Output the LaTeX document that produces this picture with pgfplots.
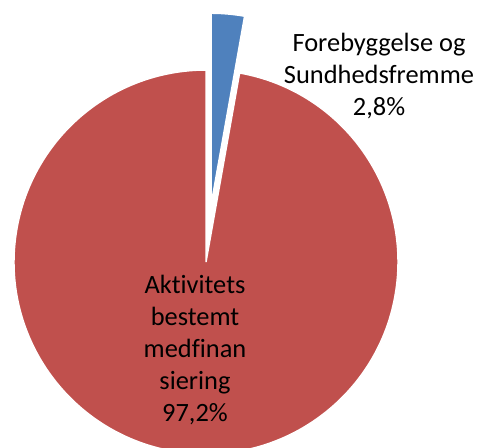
\documentclass[border=0pt]{standalone}
\usepackage{fontspec}
\setmainfont{Carlito}[Ligatures=NoCommon]
\usepackage{pgfplots}
\pgfplotsset{compat=1.18}
\usepackage{pgfplotstable}

\definecolor{piered}{HTML}{C0504D}
\definecolor{pieblue}{HTML}{4F81BD}

% andele i procent
\pgfplotstableread[col sep=comma]{
share
2.8
97.2
}\piedata
\pgfplotstablegetelem{0}{share}\of\piedata \let\shareA\pgfplotsretval
\pgfplotstablegetelem{1}{share}\of\piedata \let\shareB\pgfplotsretval

% vinkler (1 enhed = 1 px = 0.5pt)
\pgfmathsetmacro\angA{3.6*\shareA}
\pgfmathsetmacro\midA{90-\angA/2}
\pgfmathsetmacro\cx{206}
\pgfmathsetmacro\cy{185}
\pgfmathsetmacro\ex{\cx+57*cos(\midA)}
\pgfmathsetmacro\ey{\cy+57*sin(\midA)}

\begin{document}
\begin{tikzpicture}
\begin{axis}[
  width=238.5pt, height=223.5pt,
  scale only axis,
  hide axis,
  xmin=0, xmax=477, ymin=0, ymax=447,
  clip=true,
]
% Forebyggelse (trukket ud)
\fill[pieblue, draw=white, line width=0.75pt]
  (axis cs:\ex,\ey) -- ++(90:96pt) arc[start angle=90, end angle=90-\angA, radius=96pt] -- cycle;
% Aktivitetsbestemt medfinansiering
\fill[piered, draw=white, line width=0.75pt]
  (axis cs:\cx,\cy) -- ++(90-\angA:96pt) arc[start angle=90-\angA, end angle=-270, radius=96pt] -- cycle;

\node[align=center, font=\fontsize{13.2}{16}\selectfont, inner sep=0pt]
  at (axis cs:379,371) {Forebyggelse og\\Sundhedsfremme\\2,8\%};
\node[align=center, font=\fontsize{13.2}{16}\selectfont, inner sep=0pt]
  at (axis cs:195,97) {Aktivitets\\bestemt\\medfinan\\siering\\97,2\%};
\end{axis}
\pgfresetboundingbox
\path[use as bounding box] (current axis.south west) rectangle (current axis.north east);
\end{tikzpicture}
\end{document}
